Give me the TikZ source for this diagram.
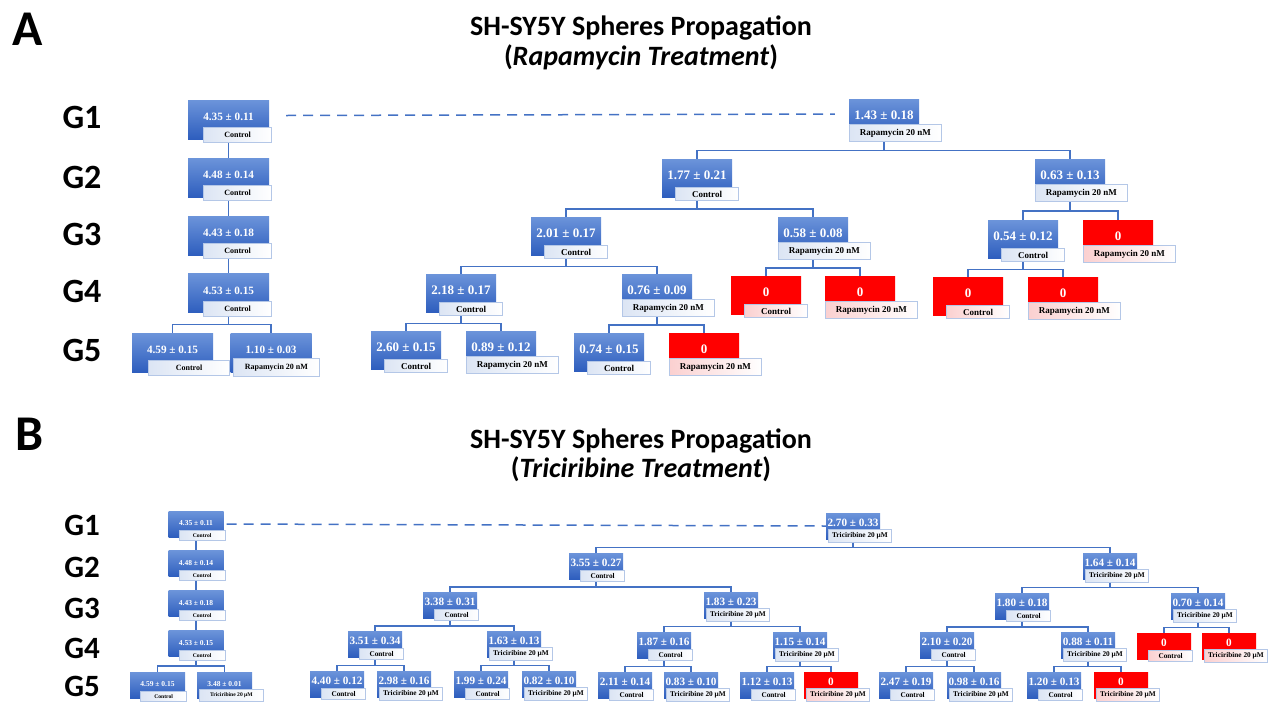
\documentclass[tikz,border=0pt]{standalone}
\usepackage{fontspec}
\setmainfont{Liberation Serif}
\newfontfamily\headfont{Carlito}
\usetikzlibrary{calc}

\definecolor{lineblue}{HTML}{4472C4}
\definecolor{boxtop}{HTML}{6C94DA}
\definecolor{boxbot}{HTML}{2E5EBE}
\definecolor{tagedge}{HTML}{B4C7E7}
\definecolor{tagtint}{HTML}{DCE5F4}
\definecolor{zerored}{HTML}{FF0000}
\definecolor{pinktint}{HTML}{FBD0D0}

\tikzset{
  cell/.style={rectangle, inner sep=0pt, text=white, top color=boxtop, bottom color=boxbot},
  zero/.style={top color=zerored, bottom color=zerored},
  abox/.style={cell, minimum width=70pt, minimum height=38pt, text height=9pt, text depth=6.2pt,
    font=\bfseries\fontsize{13}{14}\selectfont},
  labox/.style={cell, minimum width=81pt, minimum height=39pt, text height=8pt, text depth=5.4pt,
    font=\bfseries\fontsize{11.2}{12}\selectfont},
  bbox/.style={cell, minimum width=54pt, minimum height=26pt, text height=8pt, text depth=6.4pt,
    font=\bfseries\fontsize{11.2}{12}\selectfont},
  lbbox/.style={cell, minimum width=55pt, minimum height=26pt, text height=5.5pt, text depth=2.4pt,
    font=\bfseries\fontsize{7.5}{8}\selectfont},
  tag/.style={rectangle, inner sep=0pt, draw=tagedge, line width=0.8pt, left color=tagtint,
    right color=white, text=black},
  redtag/.style={left color=pinktint},
  actl/.style={tag, anchor=north east, xshift=42pt, yshift=10pt, minimum width=63pt,
    minimum height=13pt, font=\bfseries\fontsize{9}{10}\selectfont},
  atrt/.style={tag, anchor=north west, xshift=-35pt, yshift=13pt, minimum width=92pt,
    minimum height=17pt, font=\bfseries\fontsize{9}{10}\selectfont},
  lactl/.style={tag, anchor=north east, xshift=43.5pt, yshift=12pt, minimum width=68pt,
    minimum height=15pt, font=\bfseries\fontsize{8}{9}\selectfont},
  latrt/.style={tag, anchor=north west, xshift=-38pt, yshift=14pt, minimum width=86pt,
    minimum height=18pt, font=\bfseries\fontsize{8}{9}\selectfont},
  bctl/.style={tag, anchor=north east, xshift=29pt, yshift=9pt, minimum width=44pt,
    minimum height=11pt, font=\bfseries\fontsize{7.3}{8}\selectfont},
  btrt/.style={tag, anchor=north west, xshift=-25pt, yshift=10pt, minimum width=63pt,
    minimum height=12.5pt, font=\bfseries\fontsize{7.3}{8}\selectfont},
  lbctl/.style={tag, anchor=north east, xshift=29.5pt, yshift=7pt, minimum width=46pt,
    minimum height=10pt, font=\bfseries\fontsize{5.6}{6}\selectfont},
  lbtrt/.style={tag, anchor=north west, xshift=-25.5pt, yshift=9pt, minimum width=64pt,
    minimum height=12pt, font=\bfseries\fontsize{5.6}{6}\selectfont},
  link/.style={draw=lineblue, line width=1.6pt},
  dashline/.style={draw=lineblue, line width=1.5pt, dash pattern=on 10pt off 7pt},
  head/.style={anchor=base, inner sep=0pt, font=\headfont\bfseries\fontsize{28}{30}\selectfont},
  panel/.style={inner sep=0pt, font=\headfont\bfseries\fontsize{50}{50}\selectfont},
  glabA/.style={inner sep=0pt, font=\headfont\bfseries\fontsize{34}{34}\selectfont},
  glabB/.style={inner sep=0pt, font=\headfont\bfseries\fontsize{31}{31}\selectfont}
}

% box + tag pair: box style, name, centre, value, tag style, tag text
\newcommand{\gencell}[6]{%
  \node[#1] (#2) at (#3) {#4};
  \node[#5] (#2t) at (#2.south) {#6};}
% elbow from a parent down to a child
\newcommand{\branch}[2]{%
  \draw[link] (#1.center |- #1t.south) |- ($(#1.center |- #1t.south)!.5!(#2.north)$) -| (#2.north);}

\begin{document}
\begin{tikzpicture}[x=1pt, y=-1pt]
\useasboundingbox (0,0) rectangle (1273,702);

\node[panel] (pa) at (28,29) {A};
\node[head] (ha1) at (641,35) {SH-SY5Y Spheres Propagation};
\node[head] (ha2) at (641,65) {(\textit{Rapamycin Treatment})};
\node[glabA] (ga1) at (82,117) {G1};
\node[glabA] (ga2) at (82,177) {G2};
\node[glabA] (ga3) at (82,234) {G3};
\node[glabA] (ga4) at (82,291) {G4};
\node[glabA] (ga5) at (82,350) {G5};

\gencell{labox}{a1}{228.5,119.5}{4.35 ± 0.11}{lactl}{Control}
\gencell{labox}{a2}{228.5,177.5}{4.48 ± 0.14}{lactl}{Control}
\gencell{labox}{a3}{228.5,235.5}{4.43 ± 0.18}{lactl}{Control}
\gencell{labox}{a4}{228.5,293}{4.53 ± 0.15}{lactl}{Control}
\gencell{labox}{a5}{172.5,352.5}{4.59 ± 0.15}{lactl, xshift=14pt, minimum width=81pt}{Control}
\gencell{labox}{a6}{271,352.5}{1.10 ± 0.03}{latrt}{Rapamycin 20 nM}

\gencell{abox}{p1}{884,118}{1.43 ± 0.18}{atrt}{Rapamycin 20 nM}
\gencell{abox}{p2a}{697,178}{1.77 ± 0.21}{actl}{Control}
\gencell{abox}{p2b}{1070,178}{0.63 ± 0.13}{atrt}{Rapamycin 20 nM}
\gencell{abox}{p3a}{566,236}{2.01 ± 0.17}{actl}{Control}
\gencell{abox}{p3b}{813,236}{0.58 ± 0.08}{atrt}{Rapamycin 20 nM}
\gencell{abox}{p3c}{1023,239}{0.54 ± 0.12}{actl}{Control}
\gencell{abox,zero}{p3d}{1118,239}{0}{atrt,redtag}{Rapamycin 20 nM}
\gencell{abox}{p4a}{461,293}{2.18 ± 0.17}{actl}{Control}
\gencell{abox}{p4b}{657,293}{0.76 ± 0.09}{atrt}{Rapamycin 20 nM}
\gencell{abox,zero}{p4c}{766,295}{0}{actl,redtag}{Control}
\gencell{abox,zero}{p4d}{860,295}{0}{atrt,redtag}{Rapamycin 20 nM}
\gencell{abox,zero}{p4e}{968,296}{0}{actl,redtag}{Control}
\gencell{abox,zero}{p4f}{1063,296}{0}{atrt,redtag}{Rapamycin 20 nM}
\gencell{abox}{p5a}{406,350}{2.60 ± 0.15}{actl}{Control}
\gencell{abox}{p5b}{501,350}{0.89 ± 0.12}{atrt}{Rapamycin 20 nM}
\gencell{abox}{p5c}{609,352}{0.74 ± 0.15}{actl}{Control}
\gencell{abox,zero}{p5d}{704,352}{0}{atrt,redtag}{Rapamycin 20 nM}

\draw[dashline] ([xshift=17pt,yshift=4pt]a1.east) -- ([xshift=-14pt,yshift=4pt]p1.west);
\branch{a1}{a2}
\branch{a2}{a3}
\branch{a3}{a4}
\branch{a4}{a5}
\branch{a4}{a6}
\branch{p1}{p2a}
\branch{p1}{p2b}
\branch{p2a}{p3a}
\branch{p2a}{p3b}
\branch{p2b}{p3c}
\branch{p2b}{p3d}
\branch{p3a}{p4a}
\branch{p3a}{p4b}
\branch{p3b}{p4c}
\branch{p3b}{p4d}
\branch{p3c}{p4e}
\branch{p3c}{p4f}
\branch{p4a}{p5a}
\branch{p4a}{p5b}
\branch{p4b}{p5c}
\branch{p4b}{p5d}

\node[panel] (pb) at (30,434) {B};
\node[head] (hb1) at (641,448) {SH-SY5Y Spheres Propagation};
\node[head] (hb2) at (641,477) {(\textit{Triciribine Treatment})};
\node[glabB] (gb1) at (82,525) {G1};
\node[glabB] (gb2) at (82,567) {G2};
\node[glabB] (gb3) at (82,608) {G3};
\node[glabB] (gb4) at (82,648) {G4};
\node[glabB] (gb5) at (82,686) {G5};

\gencell{lbbox}{b1}{196,524}{4.35 ± 0.11}{lbctl}{Control}
\gencell{lbbox}{b2}{196,563.5}{4.48 ± 0.14}{lbctl}{Control}
\gencell{lbbox}{b3}{196,603.5}{4.43 ± 0.18}{lbctl}{Control}
\gencell{lbbox}{b4}{196,643.5}{4.53 ± 0.15}{lbctl}{Control}
\gencell{lbbox}{b5}{157.5,685}{4.59 ± 0.15}{lbctl}{Control}
\gencell{lbbox}{b6}{224.5,685}{3.48 ± 0.01}{lbtrt}{Triciribine 20 μM}

\gencell{bbox}{q1}{853,526}{2.70 ± 0.33}{btrt}{Triciribine 20 μM}
\gencell{bbox}{q2a}{596,566}{3.55 ± 0.27}{bctl}{Control}
\gencell{bbox}{q2b}{1110,566}{1.64 ± 0.14}{btrt}{Triciribine 20 μM}
\gencell{bbox}{q3a}{450,605}{3.38 ± 0.31}{bctl}{Control}
\gencell{bbox}{q3b}{731,605}{1.83 ± 0.23}{btrt}{Triciribine 20 μM}
\gencell{bbox}{q3c}{1022,606}{1.80 ± 0.18}{bctl}{Control}
\gencell{bbox}{q3d}{1198,606}{0.70 ± 0.14}{btrt}{Triciribine 20 μM}
\gencell{bbox}{q4a}{375,644}{3.51 ± 0.34}{bctl}{Control}
\gencell{bbox}{q4b}{514,644}{1.63 ± 0.13}{btrt}{Triciribine 20 μM}
\gencell{bbox}{q4c}{664,645}{1.87 ± 0.16}{bctl}{Control}
\gencell{bbox}{q4d}{800,645}{1.15 ± 0.14}{btrt}{Triciribine 20 μM}
\gencell{bbox}{q4e}{947,645}{2.10 ± 0.20}{bctl}{Control}
\gencell{bbox}{q4f}{1088,645}{0.88 ± 0.11}{btrt}{Triciribine 20 μM}
\gencell{bbox,zero}{q4g}{1164,646}{0}{bctl,redtag}{Control}
\gencell{bbox,zero}{q4h}{1229,646}{0}{btrt,redtag}{Triciribine 20 μM}
\gencell{bbox}{q5a}{337,684}{4.40 ± 0.12}{bctl}{Control}
\gencell{bbox}{q5b}{404,684}{2.98 ± 0.16}{btrt}{Triciribine 20 μM}
\gencell{bbox}{q5c}{481,684}{1.99 ± 0.24}{bctl}{Control}
\gencell{bbox}{q5d}{549,684}{0.82 ± 0.10}{btrt}{Triciribine 20 μM}
\gencell{bbox}{q5e}{625,685}{2.11 ± 0.14}{bctl}{Control}
\gencell{bbox}{q5f}{691,685}{0.83 ± 0.10}{btrt}{Triciribine 20 μM}
\gencell{bbox}{q5g}{767,685}{1.12 ± 0.13}{bctl}{Control}
\gencell{bbox,zero}{q5h}{831,685}{0}{btrt,redtag}{Triciribine 20 μM}
\gencell{bbox}{q5i}{906,685}{2.47 ± 0.19}{bctl}{Control}
\gencell{bbox}{q5j}{974,685}{0.98 ± 0.16}{btrt}{Triciribine 20 μM}
\gencell{bbox}{q5k}{1054,685}{1.20 ± 0.13}{bctl}{Control}
\gencell{bbox,zero}{q5l}{1121,685}{0}{btrt,redtag}{Triciribine 20 μM}

\draw[dashline] ([xshift=3pt]b1.east) -- (q1.west);
\branch{b1}{b2}
\branch{b2}{b3}
\branch{b3}{b4}
\branch{b4}{b5}
\branch{b4}{b6}
\branch{q1}{q2a}
\branch{q1}{q2b}
\branch{q2a}{q3a}
\branch{q2a}{q3b}
\branch{q2b}{q3c}
\branch{q2b}{q3d}
\branch{q3a}{q4a}
\branch{q3a}{q4b}
\branch{q3b}{q4c}
\branch{q3b}{q4d}
\branch{q3c}{q4e}
\branch{q3c}{q4f}
\branch{q3d}{q4g}
\branch{q3d}{q4h}
\branch{q4a}{q5a}
\branch{q4a}{q5b}
\branch{q4b}{q5c}
\branch{q4b}{q5d}
\branch{q4c}{q5e}
\branch{q4c}{q5f}
\branch{q4d}{q5g}
\branch{q4d}{q5h}
\branch{q4e}{q5i}
\branch{q4e}{q5j}
\branch{q4f}{q5k}
\branch{q4f}{q5l}
\end{tikzpicture}
\end{document}
